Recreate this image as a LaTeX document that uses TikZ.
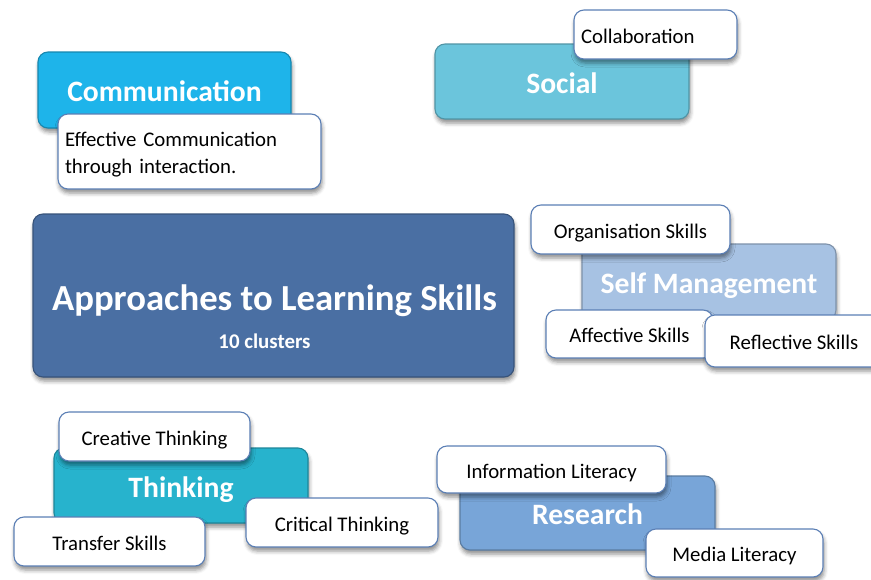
\documentclass[tikz,border=0pt]{standalone}
\usepackage{fontspec}
\setmainfont{Carlito}
\usetikzlibrary{shadows.blur}
\definecolor{commc}{HTML}{1EB4EA}
\definecolor{socc}{HTML}{6BC5DC}
\definecolor{atlc}{HTML}{4A6FA3}
\definecolor{selfc}{HTML}{A7C2E3}
\definecolor{thinkc}{HTML}{27B3CD}
\definecolor{resc}{HTML}{78A5D8}
\definecolor{leafb}{HTML}{5B7FB5}
\begin{document}
\begin{tikzpicture}[x=1pt,y=1pt,
  base/.style={rounded corners=10pt, line width=1.1pt, inner sep=0pt,
    blur shadow={shadow xshift=1pt,shadow yshift=-4pt,shadow blur radius=4pt,shadow opacity=45}},
  head/.style={base, fill=#1, draw=#1!75!black, text=white,
    font=\fontsize{29.6}{34}\selectfont\bfseries, text height=24pt, text depth=1pt},
  leafbox/.style={base, fill=white, draw=leafb, text=black, inner xsep=7pt,
    font=\fontsize{20.8}{26.7}\selectfont},
  leaf/.style={leafbox, text height=20.4pt, text depth=3pt},
  plain/.style={inner sep=0pt, text=white}]
\useasboundingbox (0,0) rectangle (871,-579);

% Communication
\node[head=commc, minimum width=253pt, minimum height=76pt] (comm) at (164.5,-90) {Communication};
\node[leafbox, minimum width=263pt, minimum height=75pt, text width=249pt, align=left,
  text height=13.4pt, text depth=23pt] (effc) at (189.5,-151.5) {Effective Communication\\through interaction.};

% Social
\node[head=socc, minimum width=254pt, minimum height=75pt] (soc) at (562,-81.5) {Social};
\node[leaf, minimum width=163pt, minimum height=49pt, text width=149pt, align=left,
  text height=21.4pt] (collab) at (655.5,-34.5) {Collaboration};

% Approaches to Learning Skills
\node[base, fill=atlc, draw=atlc!75!black, minimum width=481pt, minimum height=163pt] (atl) at (273.5,-295.5) {};
\node[plain, font=\fontsize{36.7}{40}\selectfont\bfseries, text height=28pt, text depth=0pt] (atltitle) at (274.5,-296) {Approaches to Learning Skills};
\node[plain, font=\fontsize{20.9}{24}\selectfont\bfseries, text height=13.5pt, text depth=0pt] (atlsub) at (264.5,-341.5) {10 clusters};

% Self Management
\node[head=selfc, minimum width=254pt, minimum height=76pt] (self) at (709,-282) {Self Management};
\node[leaf, minimum width=199pt, minimum height=49pt] (org) at (630.5,-229.5) {Organisation Skills};
\node[leaf, minimum width=167pt, minimum height=48pt] (aff) at (629.5,-334) {Affective Skills};
\node[leaf, minimum width=178pt, minimum height=52pt] (refl) at (794,-341) {Reflective Skills};

% Thinking
\node[head=thinkc, minimum width=254pt, minimum height=75pt] (think) at (181,-485.5) {Thinking};
\node[leaf, minimum width=191pt, minimum height=49pt] (creat) at (154.5,-436.5) {Creative Thinking};
\node[leaf, minimum width=191pt, minimum height=49pt] (trans) at (109.5,-541.5) {Transfer Skills};
\node[leaf, minimum width=192pt, minimum height=49pt] (crit) at (342,-522.5) {Critical Thinking};

% Research
\node[head=resc, minimum width=255pt, minimum height=74pt] (res) at (587.5,-513) {Research};
\node[leaf, minimum width=229pt, minimum height=47pt] (info) at (551.5,-469.5) {Information Literacy};
\node[leaf, minimum width=177pt, minimum height=48pt] (media) at (734.5,-553) {Media Literacy};
\end{tikzpicture}
\end{document}
